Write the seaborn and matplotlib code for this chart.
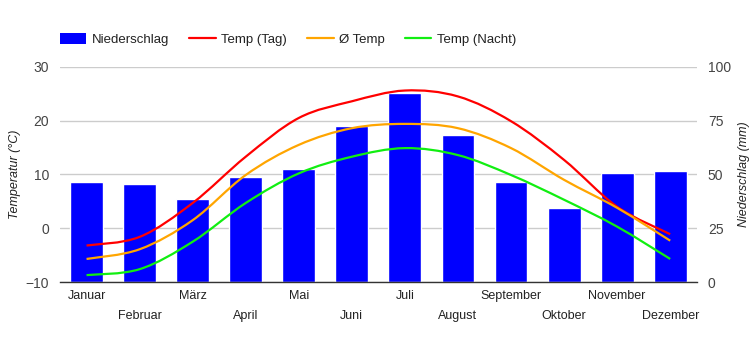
import numpy as np
import matplotlib
matplotlib.use("Agg")
import matplotlib.pyplot as plt
from matplotlib.path import Path
from matplotlib.patches import PathPatch, Patch
from matplotlib.lines import Line2D
import seaborn as sns
import pandas as pd

# Klimadaten
months = ["Januar", "Februar", "März", "April", "Mai", "Juni",
          "Juli", "August", "September", "Oktober", "November", "Dezember"]
precip_mm = [46.5, 45.6, 38.6, 48.6, 52.6, 72.6, 87.7, 68.4, 46.5, 34.6, 50.7, 51.7]
temp_day = [-3.2, -1.6, 4.7, 13.3, 20.5, 23.6, 25.6, 24.5, 19.9, 12.7, 4.0, -1.1]
temp_avg = [-5.7, -3.9, 1.5, 9.9, 15.5, 18.6, 19.4, 18.6, 14.9, 9.0, 3.8, -2.3]
temp_night = [-8.7, -7.6, -2.5, 4.7, 10.2, 13.3, 14.9, 13.6, 9.9, 5.3, 0.3, -5.7]

sns.set_style("white")
plt.rcParams["font.family"] = ["Liberation Sans", "DejaVu Sans"]


def smooth_path(xs, ys):
    # Catmull-Rom as cubic bezier, like the chart's curved lines
    pts = np.column_stack([xs, ys]).astype(float)
    verts = [pts[0]]
    codes = [Path.MOVETO]
    n = len(pts)
    for i in range(n - 1):
        p0 = pts[i - 1] if i > 0 else pts[i]
        p1 = pts[i]
        p2 = pts[i + 1]
        p3 = pts[i + 2] if i + 2 < n else pts[i + 1]
        c1 = p1 + (p2 - p0) / 6.0
        c2 = p2 - (p3 - p1) / 6.0
        verts += [c1, c2, p2]
        codes += [Path.CURVE4] * 3
    return Path(verts, codes)


df = pd.DataFrame({"Monat": months, "Niederschlag": precip_mm})

fig = plt.figure(figsize=(7.5, 3.5), dpi=100)
ax_p = fig.add_axes([0.08, 0.194, 0.849, 0.615])

sns.barplot(data=df, x="Monat", y="Niederschlag", color="#0000ff",
            saturation=1, width=0.62, ax=ax_p, zorder=2)
ax_p.set_xlim(-0.5, 11.5)
ax_p.set_ylim(0, 100)
ax_p.set_yticks([0, 25, 50, 75, 100])
ax_p.set_xlabel("")
ax_p.grid(axis="y", color="#cccccc", lw=1, zorder=0)
ax_p.set_axisbelow(True)

# two rows of month labels
x = np.arange(len(months))
ax_p.set_xticks(x[::2])
ax_p.set_xticklabels(months[::2])
ax_p.set_xticks(x[1::2], minor=True)
ax_p.set_xticklabels(months[1::2], minor=True)
ax_p.tick_params(axis="x", which="major", length=0, pad=6, labelsize=9, labelcolor="#222222")
ax_p.tick_params(axis="x", which="minor", length=0, pad=20, labelsize=9, labelcolor="#222222")

for s in ["top", "left", "right"]:
    ax_p.spines[s].set_visible(False)
ax_p.spines["bottom"].set_color("#333333")
ax_p.spines["bottom"].set_linewidth(1)

ax_t = ax_p.twinx()
ax_t.set_ylim(-10, 30)
ax_t.set_yticks([-10, 0, 10, 20, 30])
for s in ax_t.spines.values():
    s.set_visible(False)

# twinx resets tick sides, so set them afterwards
ax_p.yaxis.tick_right()
ax_p.yaxis.set_label_position("right")
ax_p.set_ylabel("Niederschlag (mm)", fontsize=9, style="italic", color="#222222")
ax_p.yaxis.set_label_coords(1.064, 0.5)
ax_p.tick_params(axis="y", length=0, labelsize=10, labelcolor="#444444", pad=8)

ax_t.yaxis.tick_left()
ax_t.yaxis.set_label_position("left")
ax_t.set_ylabel("Temperatur (°C)", fontsize=9, style="italic", color="#222222")
ax_t.yaxis.set_label_coords(-0.062, 0.5)
ax_t.tick_params(axis="y", length=0, labelsize=10, labelcolor="#444444", pad=8)

series = [("Temp (Tag)", temp_day, "#ff0000"),
          ("Ø Temp", temp_avg, "#ffa500"),
          ("Temp (Nacht)", temp_night, "#11ee11")]
for name, vals, col in series:
    ax_t.add_patch(PathPatch(smooth_path(x, vals), facecolor="none",
                             edgecolor=col, lw=1.6, zorder=3))

handles = [Patch(facecolor="#0000ff", edgecolor="none", label="Niederschlag")]
handles += [Line2D([], [], color=c, lw=1.6, label=n) for n, _, c in series]
fig.legend(handles=handles, loc="upper left", bbox_to_anchor=(0.064, 0.94),
           ncol=4, frameon=False, fontsize=9.5, handlelength=2.0,
           handleheight=0.9, handletextpad=0.4, columnspacing=1.55,
           labelcolor="#222222")

fig.savefig("out.png", dpi=100)
